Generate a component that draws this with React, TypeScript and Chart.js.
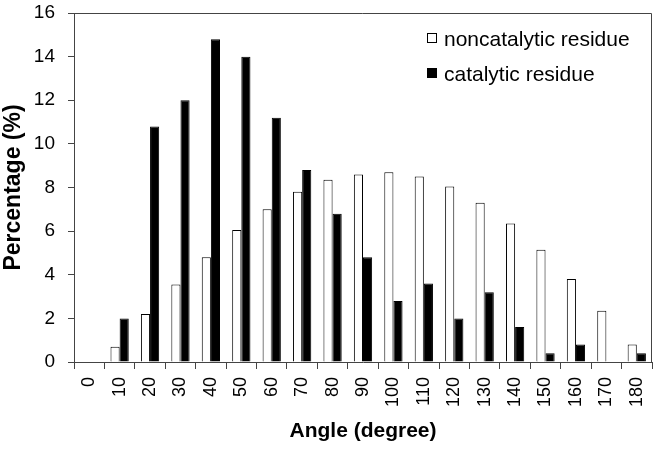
import React, { useEffect, useRef } from "react";
import { Chart, registerables } from "chart.js";

Chart.register(...registerables);

const categories = ["0", "10", "20", "30", "40", "50", "60", "70", "80", "90", "100", "110", "120", "130", "140", "150", "160", "170", "180"];
const noncatalytic = [0, 0.7, 2.2, 3.55, 4.8, 6.05, 7.0, 7.8, 8.35, 8.6, 8.7, 8.5, 8.05, 7.3, 6.35, 5.15, 3.8, 2.35, 0.8];
const catalytic = [0, 2.0, 10.8, 12.0, 14.8, 14.0, 11.2, 8.8, 6.8, 4.8, 2.8, 3.6, 2.0, 3.2, 1.6, 0.4, 0.8, 0, 0.4];
const seriesNames = ["noncatalytic residue", "catalytic residue"];

const FONT = "'Liberation Sans', Arial, sans-serif";

const frameAndLegend = {
  id: "frameAndLegend",
  afterDraw(chart: any) {
    const { ctx, chartArea } = chart;
    ctx.save();
    ctx.strokeStyle = "#444";
    ctx.lineWidth = 1;
    ctx.beginPath();
    ctx.moveTo(chartArea.left, chartArea.top + 0.5);
    ctx.lineTo(chartArea.right - 0.5, chartArea.top + 0.5);
    ctx.lineTo(chartArea.right - 0.5, chartArea.bottom);
    ctx.stroke();

    const x0 = 427;
    const ys = [38, 73];
    const fills = ["#ffffff", "#000000"];
    ctx.font = `21px ${FONT}`;
    ctx.textBaseline = "middle";
    ctx.textAlign = "left";
    seriesNames.forEach((name, i) => {
      ctx.fillStyle = fills[i];
      ctx.fillRect(x0, ys[i] - 5, 10, 10);
      ctx.strokeStyle = "#000";
      ctx.strokeRect(x0 + 0.5, ys[i] - 4.5, 9, 9);
      ctx.fillStyle = "#000";
      ctx.fillText(name, x0 + 17, ys[i] + 2);
    });
    ctx.restore();
  },
};

export default function App() {
  const ref = useRef<HTMLCanvasElement>(null);
  useEffect(() => {
    const chart = new Chart(ref.current!, {
      type: "bar",
      data: {
        labels: categories,
        datasets: [
          {
            label: seriesNames[0],
            data: noncatalytic,
            backgroundColor: "#ffffff",
            borderColor: "#000000",
            borderWidth: 1,
            borderSkipped: "bottom",
          },
          {
            label: seriesNames[1],
            data: catalytic,
            backgroundColor: "#000000",
            borderColor: "#000000",
            borderWidth: 1,
          },
        ],
      },
      options: {
        animation: false,
        responsive: false,
        maintainAspectRatio: false,
        layout: { padding: { top: 13, right: 6, left: 0, bottom: 0 } },
        datasets: { bar: { categoryPercentage: 0.6, barPercentage: 1.0 } },
        plugins: { legend: { display: false }, tooltip: { enabled: false } },
        scales: {
          x: {
            offset: true,
            grid: { offset: true, drawOnChartArea: false, tickLength: 7, color: "#444" },
            border: { color: "#444" },
            ticks: {
              minRotation: 90,
              maxRotation: 90,
              autoSkip: false,
              color: "#000",
              font: { family: FONT, size: 18 },
              padding: 8,
            },
            title: {
              display: true,
              text: "Angle (degree)",
              color: "#000",
              font: { family: FONT, size: 21, weight: "bold" },
              padding: { top: 0, bottom: 5 },
            },
            afterFit: (s: any) => { s.height = 87; s.paddingLeft = 0; s.paddingRight = 0; },
          },
          y: {
            min: 0,
            max: 16,
            ticks: { stepSize: 2, color: "#000", font: { family: FONT, size: 19 }, padding: 13 },
            grid: { drawOnChartArea: false, tickLength: 6, color: "#444" },
            border: { color: "#444" },
            title: {
              display: true,
              text: "Percentage (%)",
              color: "#000",
              font: { family: FONT, size: 23, weight: "bold" },
              padding: { top: 0, bottom: 0 },
            },
            afterFit: (s: any) => { s.width = 74; s.paddingTop = 0; s.paddingBottom = 0; },
          },
        },
      },
      plugins: [frameAndLegend],
    });
    return () => chart.destroy();
  }, []);
  return (
    <div style={{ position: "fixed", left: 0, top: 0, width: 658, height: 449, background: "#fff" }}>
      <canvas ref={ref} width={658} height={449} style={{ display: "block" }} />
    </div>
  );
}
